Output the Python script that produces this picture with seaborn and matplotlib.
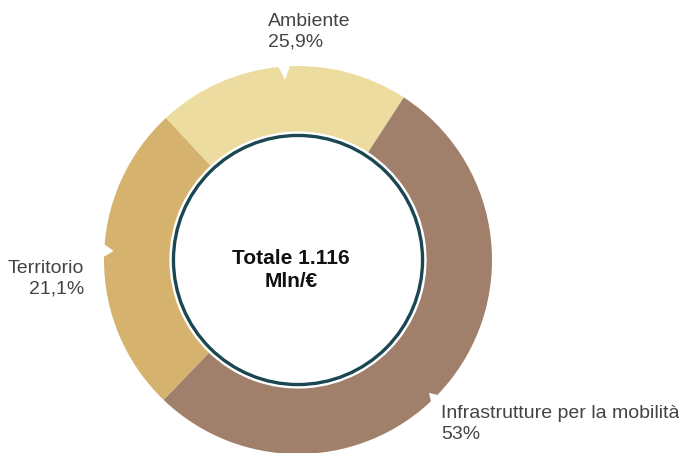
import numpy as np
import matplotlib
matplotlib.use("Agg")
import matplotlib.pyplot as plt
from matplotlib.patches import Circle, Polygon
import seaborn as sns

# data (wedge shares as drawn, labels as printed)
categories = ["Ambiente", "Infrastrutture per la mobilità", "Territorio"]
shares = [21.1, 53.0, 25.9]
pct_labels = ["25,9%", "53%", "21,1%"]
total_label = "Totale 1.116\nMln/€"

colors = ["#EDDC9F", "#A0806A", "#D6B26F"]

sns.set_theme(style="white")
plt.rcParams['font.family'] = ['Liberation Sans', 'DejaVu Sans']

W, H = 679, 453
cx, cy, R = 298, 260, 194   # donut centre / radius in pixels


def px(x, y):
    # pixel position -> data coords (radius 1 = R px)
    return (x - cx) / R, (cy - y) / R


fig = plt.figure(figsize=(W / 100, H / 100), dpi=100)
ax = fig.add_axes([0, 0, 1, 1])

ax.pie(shares, colors=colors, startangle=132.9, counterclock=False,
       radius=1.0, wedgeprops=dict(width=0.337, linewidth=0))

# pie() resets the limits, so set them afterwards
ax.set_xlim(-cx / R, (W - cx) / R)
ax.set_ylim(-(H - cy) / R, cy / R)
ax.set_aspect("equal")
ax.axis("off")

# small notches on the outer edge
notches = [(94.1, 0.93, 2.1), (177.2, 0.952, 2.5), (-45.4, 0.962, 2.0)]
for ang, tip, half in notches:
    a0, a1, a = np.radians([ang - half, ang + half, ang])
    pts = [(1.02 * np.cos(a0), 1.02 * np.sin(a0)),
           (tip * np.cos(a), tip * np.sin(a)),
           (1.02 * np.cos(a1), 1.02 * np.sin(a1))]
    ax.add_patch(Polygon(pts, closed=True, facecolor="white", edgecolor="none", zorder=3))

# inner circle with dark teal ring
ax.add_patch(Circle((0, 0), 0.642, facecolor="white", edgecolor="#1B4752",
                    linewidth=2.4, zorder=4))
tx, ty = px(291, 270)
ax.text(tx, ty, total_label, ha="center", va="center", fontsize=15,
        fontweight="bold", color="#111111", linespacing=1.25, zorder=5)

lab_kw = dict(fontsize=14, color="#444444", linespacing=1.3, va="top")
x, y = px(268, 13)
ax.text(x, y, f"{categories[0]}\n{pct_labels[0]}", ha="left", **lab_kw)
x, y = px(84, 260)
ax.text(x, y, f"{categories[2]}\n{pct_labels[2]}", ha="right", **lab_kw)
x, y = px(441, 405)
ax.text(x, y, f"{categories[1]}\n{pct_labels[1]}", ha="left", **lab_kw)

fig.savefig("out.png", dpi=100)
